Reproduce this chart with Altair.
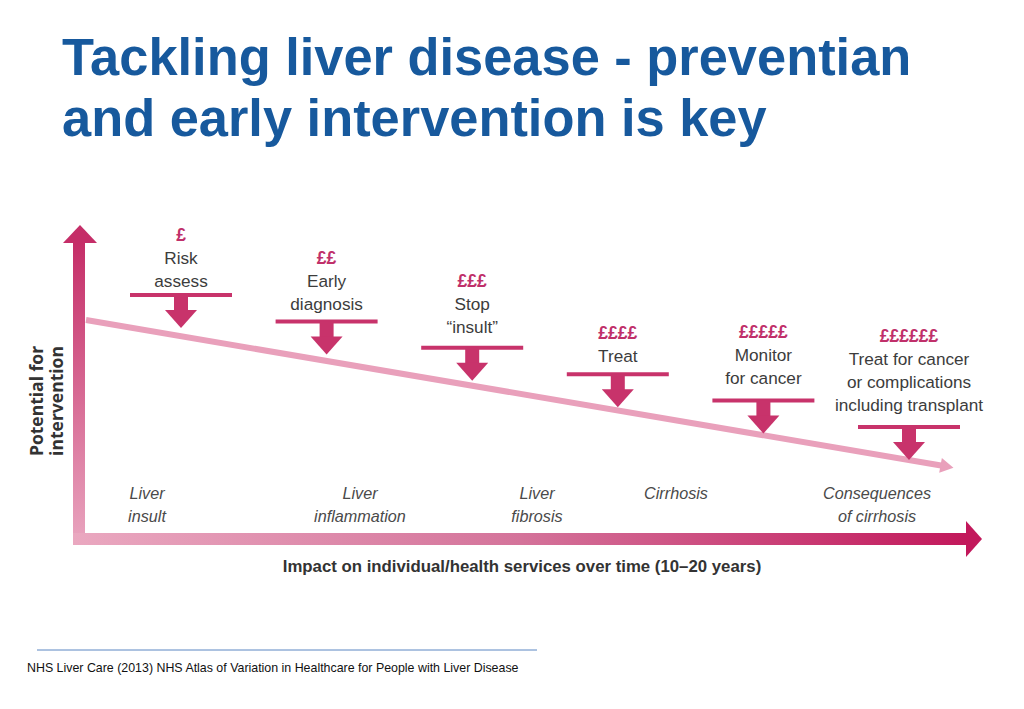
import altair as alt
import pandas as pd

# ---------------- data ----------------
title_lines = ["Tackling liver disease - preventian", "and early intervention is key"]
cost_levels = [1, 2, 3, 4, 5, 6]
interventions = [
    ["Risk", "assess"],
    ["Early", "diagnosis"],
    ["Stop", "\u201cinsult\u201d"],
    ["Treat"],
    ["Monitor", "for cancer"],
    ["Treat for cancer", "or complications", "including transplant"],
]
stages = [
    ["Liver", "insult"],
    ["Liver", "inflammation"],
    ["Liver", "fibrosis"],
    ["Cirrhosis"],
    ["Consequences", "of cirrhosis"],
]
stage_time = [147, 360, 537, 676, 877]          # place along the time axis
x_title = "Impact on individual/health services over time (10\u201320 years)"
y_title = ["Potential for", "intervention"]
source = "NHS Liver Care (2013) NHS Atlas of Variation in Healthcare for People with Liver Disease"

# ---------------- layout ----------------
W, H = 1008, 693
xs = alt.Scale(domain=[8, 8 + W], nice=False, zero=False)
ys = alt.Scale(domain=[8, 8 + H], nice=False, zero=False, reverse=True)
X = lambda f="x": alt.X(f"{f}:Q", scale=xs, axis=None)
Y = lambda f="y": alt.Y(f"{f}:Q", scale=ys, axis=None)

MAG = "#C8336B"
PINK_LINE = "#E9A0BB"
SANS = "Liberation Sans, Arial, sans-serif"

layers = []

# title
tdf = pd.DataFrame({"x": [62, 62], "y": [75, 136], "t": title_lines})
layers.append(alt.Chart(tdf).mark_text(align="left", baseline="alphabetic", font=SANS,
                                        fontWeight="bold", fontSize=52.4, color="#17599D")
              .encode(x=X(), y=Y(), text="t:N"))

# axes arrows (shafts with gradient)
vshaft = pd.DataFrame({"x": [73], "x2": [85], "y": [243], "y2": [545]})
layers.append(alt.Chart(vshaft).mark_rect(fill=alt.Gradient(
    gradient="linear", x1=0, x2=0, y1=1, y2=0,
    stops=[alt.GradientStop(color="#E9A5BF", offset=0), alt.GradientStop(color="#C52E68", offset=1)]))
    .encode(x=X(), x2="x2:Q", y=Y(), y2="y2:Q"))
hshaft = pd.DataFrame({"x": [73], "x2": [968], "y": [533], "y2": [545]})
layers.append(alt.Chart(hshaft).mark_rect(fill=alt.Gradient(
    gradient="linear", x1=0, x2=1, y1=0, y2=0,
    stops=[alt.GradientStop(color="#EAA8C0", offset=0), alt.GradientStop(color="#D4739A", offset=0.5),
           alt.GradientStop(color="#C2185B", offset=1)]))
    .encode(x=X(), x2="x2:Q", y=Y(), y2="y2:Q"))
vhead = pd.DataFrame({"x": [63, 80, 97], "y": [243, 225, 243], "y2": [243, 243, 243]})
layers.append(alt.Chart(vhead).mark_area(color="#C52E68").encode(x=X(), y=Y(), y2="y2:Q"))
hhead = pd.DataFrame({"y": [521, 539, 557], "x": [966, 982, 966], "x2": [966, 966, 966]})
layers.append(alt.Chart(hhead).mark_area(color="#C2185B", orient="horizontal")
              .encode(y=Y(), x=X(), x2="x2:Q"))

# declining potential line
x0, y0, x1, y1 = 86, 320, 944, 466
ldf = pd.DataFrame({"x": [x0, x1], "y": [y0, y1]})
layers.append(alt.Chart(ldf).mark_line(color=PINK_LINE, strokeWidth=6).encode(x=X(), y=Y()))
layers.append(alt.Chart(pd.DataFrame({"x": [947], "y": [466.5]}))
              .mark_point(shape="triangle-right", angle=10, size=230, filled=True, opacity=1, color=PINK_LINE)
              .encode(x=X(), y=Y()))

# interventions
bars, shafts, heads, costs, labels = [], [], [], [], []
last_baseline = [287, 310, 333, 362, 384, 411]
for i, (lvl, lab) in enumerate(zip(cost_levels, interventions)):
    cx = 181 + 145.6 * i
    by = 295 + 26.4 * i
    bars.append({"x": cx - 51, "x2": cx + 51, "y": by - 2, "y2": by + 2})
    shafts.append({"x": cx - 7, "x2": cx + 7, "y": by, "y2": by + 16})
    for dx, yy in [(-16, by + 15), (0, by + 33), (16, by + 15)]:
        heads.append({"id": i, "x": cx + dx, "y": yy, "y2": by + 15})
    n = len(lab)
    for k, line in enumerate(lab):
        labels.append({"x": cx, "y": last_baseline[i] - 23 * (n - 1 - k), "t": line})
    costs.append({"x": cx, "y": last_baseline[i] - 23 * n, "t": "\u00a3" * lvl})

layers.append(alt.Chart(pd.DataFrame(bars)).mark_rect(color=MAG)
              .encode(x=X(), x2="x2:Q", y=Y(), y2="y2:Q"))
layers.append(alt.Chart(pd.DataFrame(shafts)).mark_rect(color=MAG)
              .encode(x=X(), x2="x2:Q", y=Y(), y2="y2:Q"))
layers.append(alt.Chart(pd.DataFrame(heads)).mark_area(color=MAG)
              .encode(x=X(), y=Y(), y2="y2:Q", detail="id:N"))
layers.append(alt.Chart(pd.DataFrame(costs)).mark_text(baseline="alphabetic", font=SANS, fontWeight="bold",
                                                      fontSize=17.5, color="#C0306A")
              .encode(x=X(), y=Y(), text="t:N"))
layers.append(alt.Chart(pd.DataFrame(labels)).mark_text(baseline="alphabetic", font=SANS, fontSize=17.2,
                                                       color="#3C3C3C")
              .encode(x=X(), y=Y(), text="t:N"))

# stages along the time axis
srows = []
for sx, lab in zip(stage_time, stages):
    for k, line in enumerate(lab):
        srows.append({"x": sx, "y": 499 + 23 * k, "t": line})
layers.append(alt.Chart(pd.DataFrame(srows)).mark_text(baseline="alphabetic", font=SANS, fontSize=16.2,
                                                      fontStyle="italic", color="#4A4A4A")
              .encode(x=X(), y=Y(), text="t:N"))

# axis titles
layers.append(alt.Chart(pd.DataFrame({"x": [522], "y": [572], "t": [x_title]}))
              .mark_text(baseline="alphabetic", font=SANS, fontWeight="bold", fontSize=16.8, color="#333333")
              .encode(x=X(), y=Y(), text="t:N"))
layers.append(alt.Chart(pd.DataFrame({"x": [43, 63], "y": [401, 401], "t": y_title}))
              .mark_text(baseline="alphabetic", angle=270, font="Open Sans", fontWeight="bold", fontSize=17.5,
                         color="#333333")
              .encode(x=X(), y=Y(), text="t:N"))

# source footer
layers.append(alt.Chart(pd.DataFrame({"x": [37], "x2": [537], "y": [650]}))
              .mark_rule(color="#5B86C2", strokeWidth=1).encode(x=X(), x2="x2:Q", y=Y()))
layers.append(alt.Chart(pd.DataFrame({"x": [27], "y": [672], "t": [source]}))
              .mark_text(align="left", baseline="alphabetic", font=SANS, fontSize=12.4, color="#111111")
              .encode(x=X(), y=Y(), text="t:N"))

chart = alt.layer(*layers).properties(width=W, height=H, padding=0).configure_view(stroke=None)
chart.save("out.html", embed_options={"renderer": "svg", "actions": False})
